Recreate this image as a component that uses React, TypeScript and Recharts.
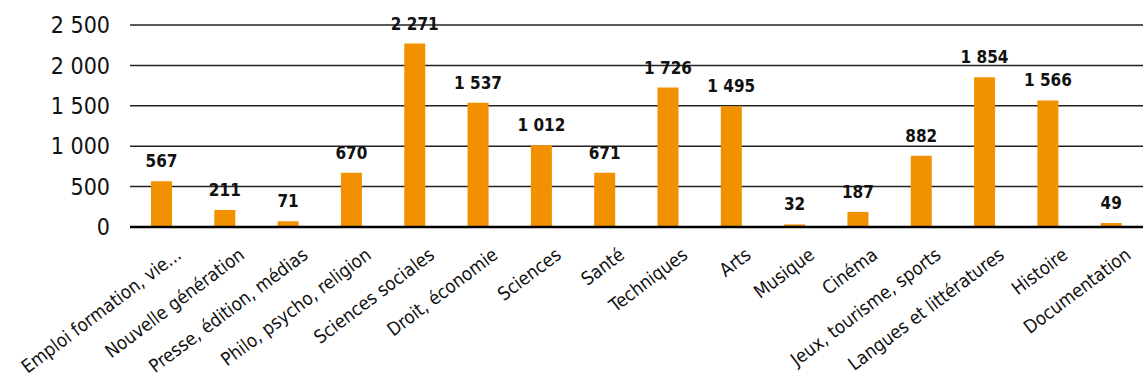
import { BarChart, Bar, XAxis, YAxis, CartesianGrid, LabelList } from 'recharts';

const categories = [
  'Emploi formation, vie...',
  'Nouvelle génération',
  'Presse, édition, médias',
  'Philo, psycho, religion',
  'Sciences sociales',
  'Droit, économie',
  'Sciences',
  'Santé',
  'Techniques',
  'Arts',
  'Musique',
  'Cinéma',
  'Jeux, tourisme, sports',
  'Langues et littératures',
  'Histoire',
  'Documentation',
];

const counts = [567, 211, 71, 670, 2271, 1537, 1012, 671, 1726, 1495, 32, 187, 882, 1854, 1566, 49];

const yTicks = [0, 500, 1000, 1500, 2000, 2500];

const FONT = "'Liberation Sans Narrow', 'DejaVu Sans Condensed', 'Roboto', sans-serif";

// thousands separated by a no-break space so labels never wrap
const fmt = (v: number) => String(v).replace(/\B(?=(\d{3})+(?!\d))/g, '\u00A0');

const data = categories.map((name, i) => ({ name, value: counts[i] }));

function CategoryTick({ x, y, payload }: any) {
  return (
    <g transform={`translate(${x + 13},${y + 12})`}>
      <text
        transform="rotate(-37)"
        textAnchor="end"
        dy="0.7em"
        fontSize={18.5}
        fontFamily={FONT}
        fill="#111"
      >
        {payload.value}
      </text>
    </g>
  );
}

export default function App() {
  return (
    <div style={{ position: 'absolute', left: 0, top: 0 }}>
      <BarChart
        width={1143}
        height={385}
        data={data}
        margin={{ top: 25, right: 0, bottom: 0, left: 0 }}
      >
        <CartesianGrid vertical={false} stroke="#222" strokeWidth={1.5} />
        <XAxis
          dataKey="name"
          interval={0}
          tickLine={false}
          axisLine={{ stroke: '#000', strokeWidth: 2.5 }}
          height={158}
          tick={<CategoryTick />}
        />
        <YAxis
          width={130}
          domain={[0, 2500]}
          ticks={yTicks}
          tickFormatter={fmt}
          axisLine={false}
          tickLine={false}
          tickSize={0}
          tickMargin={20}
          tick={{ fontSize: 23, fontFamily: FONT, fill: '#111' }}
        />
        <Bar dataKey="value" fill="#F29100" barSize={21} isAnimationActive={false}>
          <LabelList
            dataKey="value"
            position="top"
            offset={14}
            formatter={(v: any) => fmt(Number(v))}
            style={{ fontSize: 17, fontWeight: 'bold', fontFamily: FONT, fill: '#111' }}
          />
        </Bar>
      </BarChart>
    </div>
  );
}
